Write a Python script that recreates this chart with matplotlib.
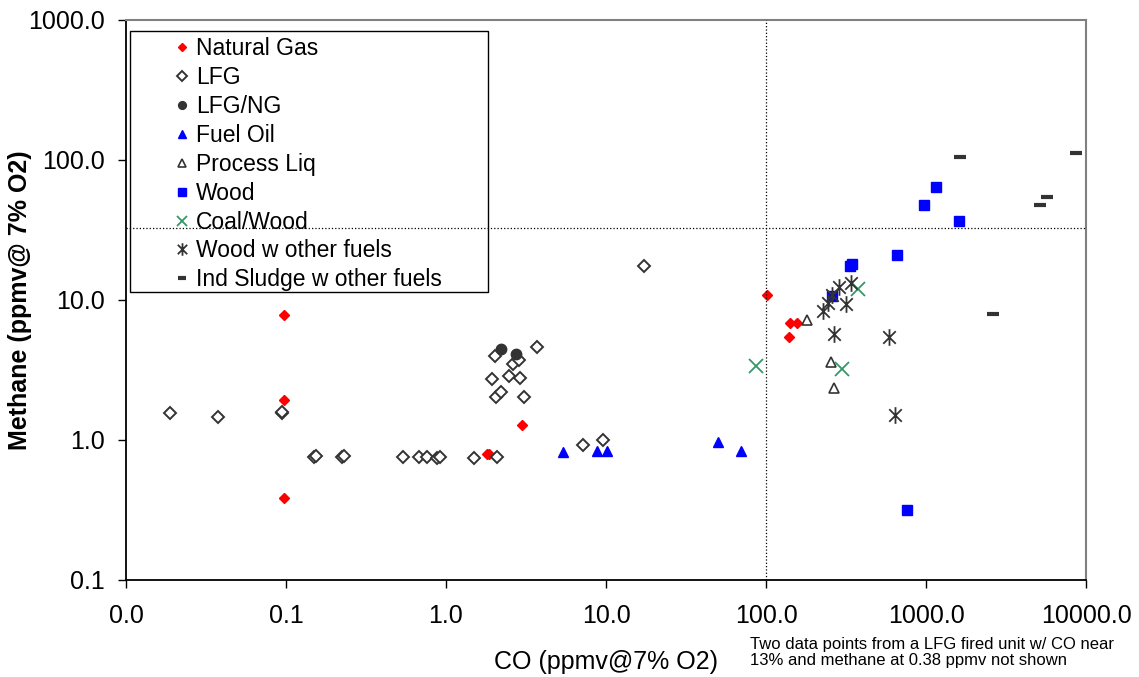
import matplotlib
matplotlib.use("Agg")
import matplotlib.pyplot as plt
from matplotlib.ticker import FuncFormatter, FixedLocator, NullLocator
from matplotlib.patches import Rectangle
from matplotlib.path import Path

plt.rcParams['font.family'] = ['Liberation Sans', 'DejaVu Sans']

# data (CO ppmv, methane ppmv)
ng_co = [0.097, 0.097, 0.097, 1.8, 1.87, 3.0, 102, 141, 157, 139]
ng_ch4 = [7.8, 1.93, 0.386, 0.79, 0.79, 1.28, 10.9, 6.86, 6.8, 5.45]

lfg_co = [0.0188, 0.0375, 0.094, 0.095, 0.15, 0.155, 0.225, 0.232, 0.536, 0.675,
          0.757, 0.88, 0.92, 1.49, 2.07, 7.2, 9.6, 17.4,
          2.01, 3.73, 2.64, 2.84, 1.93, 2.46, 2.92, 2.04, 2.22, 3.09]
lfg_ch4 = [1.56, 1.46, 1.56, 1.58, 0.75, 0.77, 0.75, 0.77, 0.757, 0.757,
           0.75, 0.74, 0.76, 0.74, 0.757, 0.92, 1.0, 17.5,
           3.98, 4.61, 3.49, 3.73, 2.73, 2.87, 2.77, 2.03, 2.2, 2.03]

lfgng_co = [2.22, 2.75]
lfgng_ch4 = [4.47, 4.11]

oil_co = [5.42, 8.8, 10.2, 50.4, 70]
oil_ch4 = [0.82, 0.83, 0.83, 0.97, 0.83]

liq_co = [181, 255, 267]
liq_ch4 = [7.2, 3.6, 2.35]

wood_co = [259, 336, 344, 659, 760, 1153, 973, 1607]
wood_ch4 = [10.7, 17.6, 18.0, 21, 0.316, 64, 47.7, 36.7]

coal_co = [87, 299, 376]
coal_ch4 = [3.38, 3.2, 12.0]

wof_co = [228, 244, 259, 286, 340, 316, 267, 588, 640]
wof_ch4 = [8.3, 9.5, 10.9, 12.4, 13.2, 9.4, 5.7, 5.45, 1.51]

sludge_co = [1630, 8630, 5690, 5140, 2620]
sludge_ch4 = [105, 112, 54.5, 47.7, 7.94]

co_ref = 100
ch4_ref = 32.7

# excel style asterisk: an X with a vertical bar
star = Path([(0, -1), (0, 1), (-0.75, -0.75), (0.75, 0.75), (-0.75, 0.75), (0.75, -0.75)],
            [Path.MOVETO, Path.LINETO, Path.MOVETO, Path.LINETO, Path.MOVETO, Path.LINETO])

fig = plt.figure(figsize=(11.39, 6.77), dpi=100)
ax = fig.add_axes([0.1106, 0.1433, 0.8429, 0.8272])

dark = '#333333'
ax.plot(ng_co, ng_ch4, ls='none', marker='D', ms=5.5, color='#FF0000', label='Natural Gas')
ax.plot(lfg_co, lfg_ch4, ls='none', marker='D', ms=6.5, mfc='white', mec=dark, mew=1.4, label='LFG')
ax.plot(lfgng_co, lfgng_ch4, ls='none', marker='o', ms=7.5, color=dark, label='LFG/NG')
ax.plot(oil_co, oil_ch4, ls='none', marker='^', ms=7.5, color='#0000FF', label='Fuel Oil')
ax.plot(liq_co, liq_ch4, ls='none', marker='^', ms=7.5, mfc='white', mec=dark, mew=1.2, label='Process Liq')
ax.plot(wood_co, wood_ch4, ls='none', marker='s', ms=7, color='#0000FF', label='Wood')
ax.plot(coal_co, coal_ch4, ls='none', marker='x', ms=10, mew=1.3, color='#339966', label='Coal/Wood')
ax.plot(wof_co, wof_ch4, ls='none', marker=star, ms=12, mew=1.3, color=dark, label='Wood w other fuels')
ax.plot(sludge_co, sludge_ch4, ls='none', marker='_', ms=8, mew=3, color=dark, label='Ind Sludge w other fuels')

ax.axvline(co_ref, ls=':', color='black', lw=0.9, zorder=6)
ax.axhline(ch4_ref, ls=':', color='black', lw=0.9, zorder=6)

ax.set_xscale('log')
ax.set_yscale('log')
ax.set_xlim(0.01, 10000)
ax.set_ylim(0.1, 1000)

fmt = FuncFormatter(lambda v, p: '%.1f' % v)
ax.xaxis.set_major_locator(FixedLocator([0.01, 0.1, 1, 10, 100, 1000, 10000]))
ax.yaxis.set_major_locator(FixedLocator([0.1, 1, 10, 100, 1000]))
ax.xaxis.set_major_formatter(fmt)
ax.yaxis.set_major_formatter(fmt)
ax.xaxis.set_minor_locator(NullLocator())
ax.yaxis.set_minor_locator(NullLocator())
ax.tick_params(axis='x', direction='out', length=6, width=1, pad=11, labelsize=18)
ax.tick_params(axis='y', direction='out', length=6, width=1, pad=9, labelsize=18)

for s in ['top', 'right']:
    ax.spines[s].set_color('#808080')
    ax.spines[s].set_linewidth(1.5)
for s in ['left', 'bottom']:
    ax.spines[s].set_color('black')
    ax.spines[s].set_linewidth(1.3)

ax.set_xlabel('CO (ppmv@7% O2)', fontsize=18, labelpad=16)
ax.set_ylabel('Methane (ppmv@ 7% O2)', fontsize=18, fontweight='bold')
ax.yaxis.set_label_coords(-0.098, 0.5)

# legend box drawn separately so the padding matches
ax.add_patch(Rectangle((0.0042, 0.514), 0.3729, 0.466, transform=ax.transAxes,
                       facecolor='white', edgecolor='black', lw=1.0, zorder=4.9))
leg = ax.legend(loc='upper left', bbox_to_anchor=(0.049, 0.970), frameon=False,
                fontsize=16.5, borderpad=0, borderaxespad=0, handlelength=0.8,
                handletextpad=0.2, labelspacing=0.26, markerscale=0.75)

fig.text(750 / 1139, 1 - 637 / 677,
         'Two data points from a LFG fired unit w/ CO near\n13% and methane at 0.38 ppmv not shown',
         fontsize=12, va='top', ha='left', linespacing=1.1)

fig.savefig('out.png', dpi=100)
